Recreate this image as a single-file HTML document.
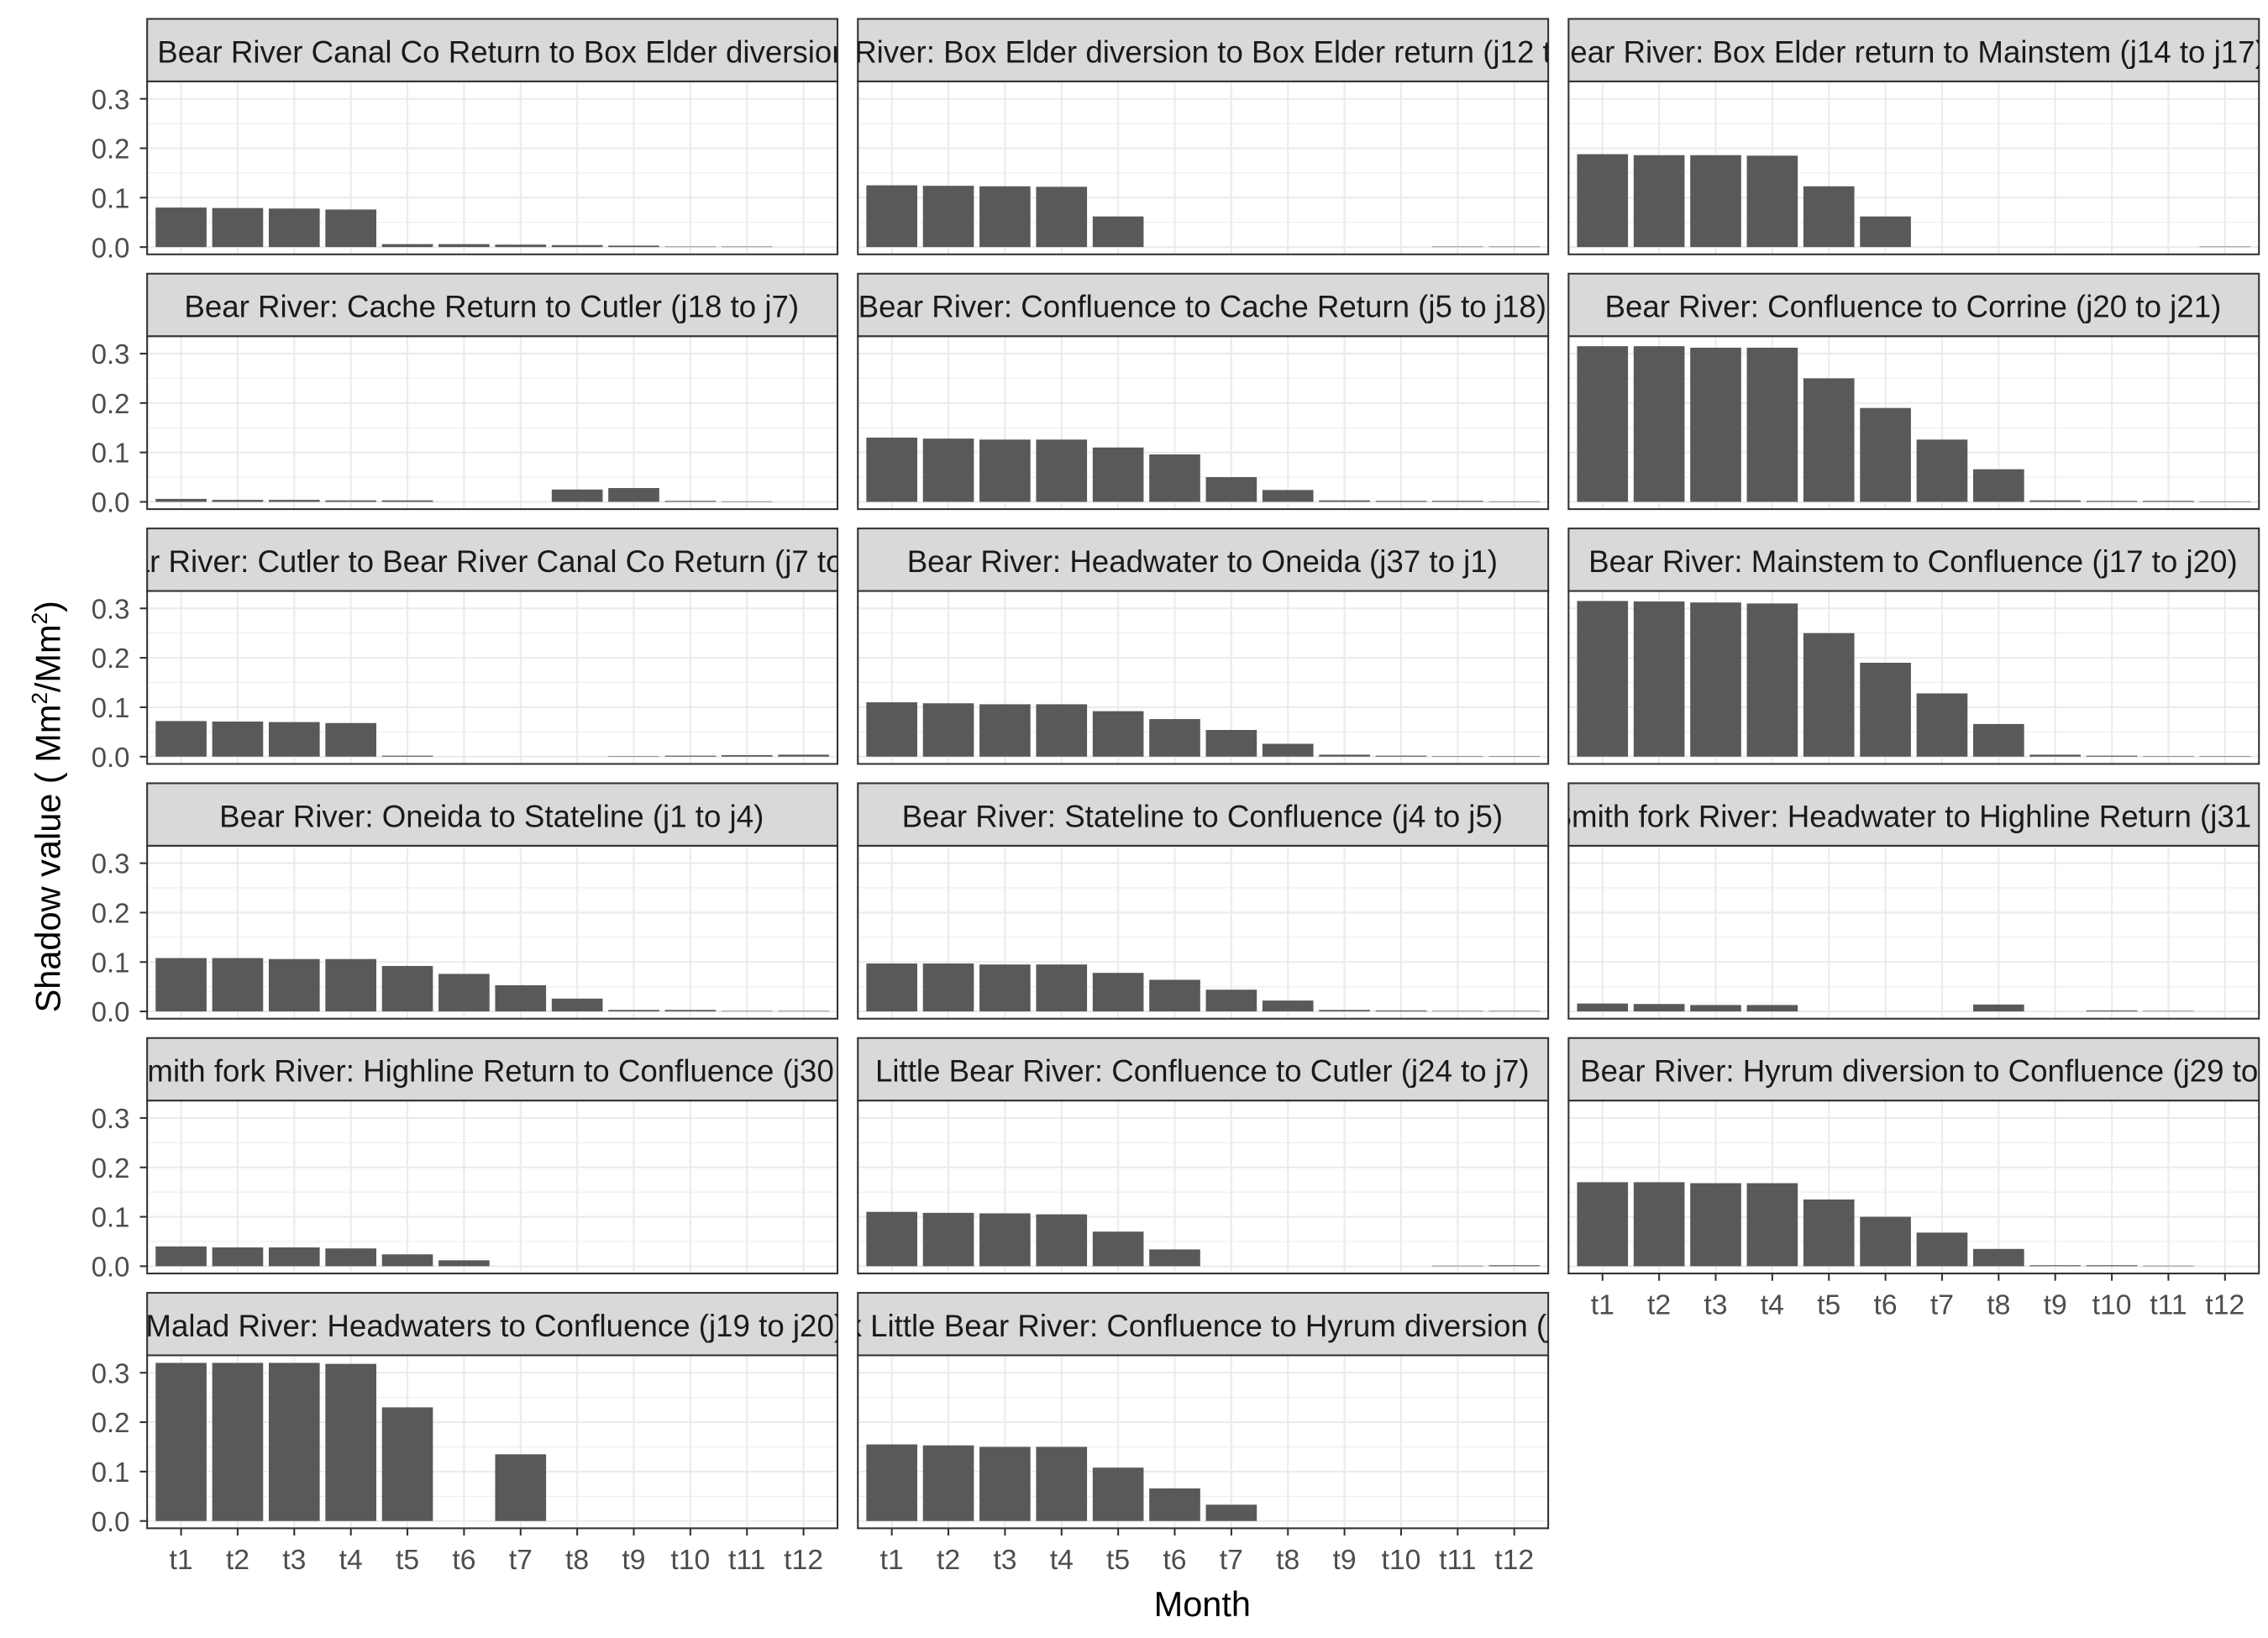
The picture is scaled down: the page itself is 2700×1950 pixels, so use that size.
<!DOCTYPE html>
<html><head><meta charset="utf-8"><style>html,body{margin:0;padding:0;background:#fff}svg{display:block}</style></head>
<body>
<svg id="chart" xmlns="http://www.w3.org/2000/svg" width="2700" height="1950" viewBox="0 0 1560 1127" font-family="Liberation Sans, Arial, sans-serif">
<rect width="1560" height="1127" fill="#fff"/>
<g id="panels"></g>
<text x="827" y="1112" font-size="24" text-anchor="middle" fill="#000">Month</text>
<text transform="translate(41,555) rotate(-90)" font-size="24" text-anchor="middle" fill="#000">Shadow value ( Mm<tspan font-size="15" dy="-9">2</tspan><tspan dy="9">/Mm</tspan><tspan font-size="15" dy="-9">2</tspan><tspan dy="9">)</tspan></text>
</svg>
<script>
const months = ["t1","t2","t3","t4","t5","t6","t7","t8","t9","t10","t11","t12"];
const yTicks = [0, 0.1, 0.2, 0.3];
const yTickLabels = ["0.0","0.1","0.2","0.3"];
const panelTitles = [
 "Bear River Canal Co Return to Box Elder diversion (j11 to j12)",
 "Bear River: Box Elder diversion to Box Elder return (j12 to j13)",
 "Bear River: Box Elder return to Mainstem (j14 to j17)",
 "Bear River: Cache Return to Cutler (j18 to j7)",
 "Bear River: Confluence to Cache Return (j5 to j18)",
 "Bear River: Confluence to Corrine (j20 to j21)",
 "Bear River: Cutler to Bear River Canal Co Return (j7 to j11)",
 "Bear River: Headwater to Oneida (j37 to j1)",
 "Bear River: Mainstem to Confluence (j17 to j20)",
 "Bear River: Oneida to Stateline (j1 to j4)",
 "Bear River: Stateline to Confluence (j4 to j5)",
 "Smith fork River: Headwater to Highline Return (j31 to j30)",
 "Smith fork River: Highline Return to Confluence (j30 to j29)",
 "Little Bear River: Confluence to Cutler (j24 to j7)",
 "Bear River: Hyrum diversion to Confluence (j29 to j24)",
 "Malad River: Headwaters to Confluence (j19 to j20)",
 "East Fork Little Bear River: Confluence to Hyrum diversion (j25 to j26)"
];
const v1 = [0.080,0.079,0.078,0.076,0.006,0.006,0.005,0.004,0.003,0.001,0.001,0];
const v2 = [0.125,0.124,0.123,0.122,0.062,0,0,0,0,0,0.001,0.001];
const v3 = [0.188,0.186,0.186,0.185,0.123,0.062,0,0,0,0,0,0.001];
const v4 = [0.006,0.004,0.004,0.003,0.003,0,0,0.025,0.028,0.002,0.001,0];
const v5 = [0.130,0.128,0.126,0.126,0.110,0.096,0.050,0.024,0.003,0.002,0.002,0.001];
const v6 = [0.315,0.315,0.312,0.312,0.250,0.190,0.126,0.066,0.003,0.002,0.002,0.001];
const v7 = [0.072,0.071,0.070,0.068,0.002,0,0,0,0.001,0.002,0.003,0.004];
const v8 = [0.110,0.108,0.106,0.106,0.092,0.076,0.054,0.026,0.004,0.002,0.001,0.001];
const v9 = [0.315,0.314,0.312,0.310,0.250,0.190,0.128,0.066,0.004,0.002,0.001,0.001];
const v10 = [0.108,0.108,0.106,0.106,0.092,0.076,0.053,0.026,0.003,0.003,0.001,0.001];
const v11 = [0.097,0.097,0.095,0.095,0.078,0.064,0.044,0.022,0.003,0.002,0.001,0.001];
const v12 = [0.016,0.015,0.013,0.013,0,0,0,0.014,0,0.002,0.001,0];
const v13 = [0.040,0.038,0.038,0.036,0.024,0.012,0,0,0,0,0,0];
const v14 = [0.110,0.108,0.107,0.105,0.070,0.034,0,0,0,0,0.001,0.002];
const v15 = [0.170,0.170,0.168,0.168,0.135,0.100,0.068,0.035,0.002,0.002,0.001,0];
const v16 = [0.320,0.320,0.320,0.318,0.230,0,0.135,0,0,0,0,0];
const v17 = [0.155,0.153,0.150,0.150,0.108,0.066,0.033,0,0,0,0,0];
const series = [v1,v2,v3,v4,v5,v6,v7,v8,v9,v10,v11,v12,v13,v14,v15,v16,v17];

const NS = "http://www.w3.org/2000/svg";
const root = document.getElementById("panels");
const colX = [101, 590, 1079];
const PW = 475, SH = 43, PH = 119, ROWP = 175.3, TOP = 13;
const titleAnchor = [["start",7],["start",-53],["start",-13],["middle",237],["middle",237],["middle",237],["start",-36],["middle",237],["middle",237],["middle",237],["middle",237],["start",-12],["start",-14],["middle",237],["start",8],["start",-1],["start",-88]];
function mk(tag, attrs, parent){const e=document.createElementNS(NS,tag);for(const k in attrs)e.setAttribute(k,attrs[k]);parent.appendChild(e);return e;}
const bottomPanels = [14,15,16];

series.forEach((vals, i) => {
  const r = Math.floor(i/3), c = i%3;
  const x0 = colX[c], sy = TOP + r*ROWP, py = sy + SH;
  const g = mk("g", {}, root);
  
  
  const y0 = py + PH - 5, y3 = py + 12;
  const yScale = v => y0 - (v/0.3)*(y0 - y3);
  const step = PW/12.2;
  const xScale = k => x0 + step*(0.6 + k);
  mk("rect", {x:x0, y:py, width:PW, height:PH, fill:"#fff"}, g);
  [0.05,0.15,0.25].forEach(t=>{const y=yScale(t); if(y>py) mk("line",{x1:x0,x2:x0+PW,y1:y,y2:y,stroke:"#ebebeb","stroke-width":0.6},g);});
  yTicks.forEach(t=>{const y=yScale(t); mk("line",{x1:x0,x2:x0+PW,y1:y,y2:y,stroke:"#ebebeb","stroke-width":1.2},g);});
  months.forEach((m,k)=>{const x=xScale(k); mk("line",{x1:x,x2:x,y1:py,y2:py+PH,stroke:"#ebebeb","stroke-width":1.2},g);});
  vals.forEach((v,k)=>{
    const cx = xScale(k), w = step*0.9;
    const yt = yScale(v);
    const b = mk("rect",{x:cx-w/2, y:yt, width:w, height:Math.max(0,y0-yt), fill:"#595959"}, g);
    
    
  });
  mk("rect",{x:x0, y:py, width:PW, height:PH, fill:"none", stroke:"#333", "stroke-width":1.2}, g);
  const clipId = "clip"+i;
  const cp = mk("clipPath",{id:clipId}, g);
  mk("rect",{x:x0, y:sy, width:PW, height:SH}, cp);
  const strip = mk("rect",{x:x0, y:sy, width:PW, height:SH, fill:"#d9d9d9", stroke:"#333", "stroke-width":1.2}, g);
  
  
  const ta = titleAnchor[i];
  const tt = mk("text",{x:x0+ta[1], y:sy+30, "font-size":21.2, fill:"#1a1a1a", "text-anchor":ta[0], "clip-path":"url(#"+clipId+")"}, g);
  
  
  tt.textContent = panelTitles[i];
  if (c === 0) {
    yTicks.forEach((t,j)=>{const y=yScale(t);
      mk("line",{x1:x0-5,x2:x0,y1:y,y2:y,stroke:"#333","stroke-width":1.2},g);
      const lb = mk("text",{x:x0-12, y:y+7, "font-size":19, fill:"#4d4d4d","text-anchor":"end"},g);
      
      
      lb.textContent = yTickLabels[j];
    });
  }
  if (bottomPanels.includes(i)) {
    months.forEach((m,k)=>{const x=xScale(k);
      mk("line",{x1:x,x2:x,y1:py+PH,y2:py+PH+5,stroke:"#333","stroke-width":1.2},g);
      const lb = mk("text",{x:x, y:py+PH+28, "font-size":19.5, fill:"#4d4d4d","text-anchor":"middle"},g);
      
      
      lb.textContent = m;
    });
  }
});
</script>
</body></html>
